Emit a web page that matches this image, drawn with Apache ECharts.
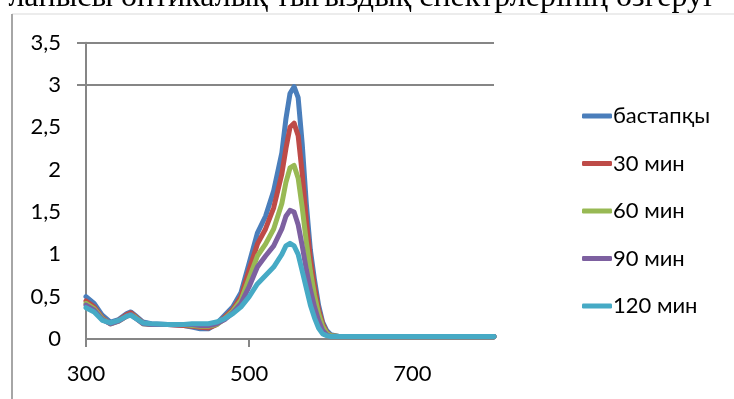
<!DOCTYPE html>
<html><head><meta charset="utf-8">
<script src="https://cdn.jsdelivr.net/npm/echarts@6/dist/echarts.min.js"></script>
<style>html,body{margin:0;padding:0;background:#fff}#c{width:734px;height:399px}</style>
</head><body><div id="c"></div>
<script>
const titleText = 'ланысы оптикалық тығыздық спектрлерінің өзгеруі';
const seriesNames = ['бастапқы', '30 мин', '60 мин', '90 мин', '120 мин'];
const colors = ['#4A7EBB', '#BE4B48', '#98B954', '#7D60A0', '#46AAC5'];
const wavelengths = [300,310,320,330,340,350,355,360,370,380,400,420,430,440,450,460,470,480,490,500,510,520,530,540,545,550,555,560,565,570,575,580,585,590,595,600,610,650,700,750,800];
const s0 = [0.50,0.42,0.28,0.20,0.23,0.30,0.32,0.28,0.20,0.18,0.17,0.16,0.14,0.12,0.12,0.18,0.28,0.38,0.55,0.90,1.25,1.45,1.75,2.20,2.60,2.90,2.98,2.85,2.30,1.60,1.05,0.70,0.40,0.20,0.10,0.05,0.03,0.03,0.03,0.03,0.03];
const s30 = [0.45,0.38,0.25,0.18,0.22,0.29,0.31,0.27,0.19,0.17,0.17,0.16,0.15,0.14,0.13,0.17,0.26,0.35,0.50,0.82,1.12,1.30,1.55,1.95,2.25,2.50,2.55,2.40,1.95,1.40,0.95,0.62,0.35,0.18,0.08,0.04,0.03,0.03,0.03,0.03,0.03];
const s60 = [0.42,0.36,0.24,0.18,0.21,0.27,0.29,0.26,0.18,0.17,0.17,0.17,0.16,0.15,0.15,0.17,0.24,0.33,0.46,0.72,0.98,1.12,1.30,1.60,1.85,2.02,2.05,1.90,1.55,1.15,0.80,0.52,0.30,0.15,0.07,0.04,0.03,0.03,0.03,0.03,0.03];
const s90 = [0.40,0.34,0.23,0.18,0.21,0.27,0.29,0.25,0.18,0.17,0.17,0.17,0.17,0.16,0.16,0.18,0.23,0.31,0.42,0.62,0.85,0.98,1.10,1.30,1.45,1.52,1.50,1.35,1.10,0.82,0.58,0.38,0.22,0.10,0.05,0.03,0.03,0.03,0.03,0.03,0.03];
const s120 = [0.37,0.32,0.22,0.19,0.22,0.27,0.28,0.25,0.19,0.18,0.17,0.17,0.18,0.18,0.18,0.20,0.24,0.30,0.38,0.50,0.65,0.75,0.85,1.00,1.10,1.13,1.10,1.00,0.80,0.60,0.40,0.25,0.13,0.06,0.04,0.03,0.03,0.03,0.03,0.03,0.03];
const allSeries = [s0, s30, s60, s90, s120];
const xLabelValues = [300, 500, 700];
const xTickValues = [300, 500];
const yTickValues = [3, 3.5];
const gridValues = [3, 3.5];

const chart = echarts.init(document.getElementById('c'), null, {renderer: 'canvas'});
const axisGray = '#868686';
const labelFont = {fontFamily: 'Lato', fontSize: 22, color: '#000'};
const series = allSeries.map((vals, i) => ({
  name: seriesNames[i],
  type: 'line',
  data: wavelengths.map((w, k) => [w, vals[k]]),
  showSymbol: false,
  symbol: 'none',
  lineStyle: {width: 5, color: colors[i], cap: 'round', join: 'round'},
  itemStyle: {color: colors[i]},
  z: 3 + i,
  animation: false
}));
series[0].markLine = {
  silent: true, symbol: 'none', animation: false, z: 1,
  label: {show: false},
  lineStyle: {color: axisGray, width: 2, type: 'solid'},
  data: gridValues.map(v => ({yAxis: v}))
};
chart.setOption({
  animation: false,
  backgroundColor: '#fff',
  grid: {left: 86, right: 240, top: 42.7, bottom: 60, containLabel: false},
  xAxis: {
    type: 'value', min: 300, max: 800, interval: 100,
    axisLine: {show: true, onZero: false, lineStyle: {color: axisGray, width: 2}},
    axisTick: {show: true, customValues: xTickValues, length: 8, lineStyle: {color: axisGray, width: 2}},
    axisLabel: Object.assign({customValues: xLabelValues, margin: 24}, labelFont),
    splitLine: {show: false}
  },
  yAxis: {
    type: 'value', min: 0, max: 3.5, interval: 0.5,
    axisLine: {show: true, lineStyle: {color: axisGray, width: 2}},
    axisTick: {show: true, customValues: yTickValues, length: 9, lineStyle: {color: axisGray, width: 2}},
    axisLabel: Object.assign({margin: 25, formatter: v => String(v).replace('.', ',')}, labelFont),
    splitLine: {show: false}
  },
  legend: {
    orient: 'vertical', left: 577, top: 100,
    itemWidth: 30, itemHeight: 5, itemGap: 25.5,
    icon: 'roundRect',
    textStyle: {fontFamily: 'Lato', fontSize: 22, color: '#000', padding: [0,0,0,-4]},
    data: seriesNames
  },
  graphic: [
    {type: 'line', shape: {x1: 12, y1: 14, x2: 734, y2: 14}, style: {stroke: '#d9d9d9', lineWidth: 1}, silent: true},
    {type: 'line', shape: {x1: 12, y1: 14, x2: 12, y2: 399}, style: {stroke: '#a6a6a6', lineWidth: 2}, silent: true},
    {type: 'text', x: 712, y: -2, style: {text: titleText, fill: '#000', font: '32px "Liberation Serif"', textAlign: 'right', textVerticalAlign: 'middle'}, silent: true}
  ],
  series: series
});
</script></body></html>
